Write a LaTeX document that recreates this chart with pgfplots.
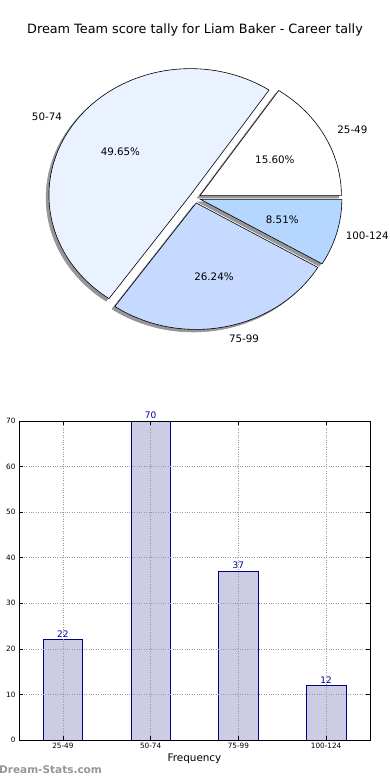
\documentclass[border=0pt]{standalone}
\usepackage{pgfplots}
\usepackage{pgfplotstable}
\pgfplotsset{compat=1.18}
\usepackage{fontspec}
\setmainfont{DejaVu Sans}
\definecolor{sliceA}{RGB}{255,255,255}
\definecolor{sliceB}{RGB}{234,241,255}
\definecolor{sliceC}{RGB}{198,217,255}
\definecolor{sliceD}{RGB}{180,214,255}
\definecolor{barfill}{RGB}{204,204,228}
\definecolor{baredge}{RGB}{0,0,128}
\definecolor{vallab}{RGB}{0,0,160}
\definecolor{wm}{RGB}{150,150,150}
\definecolor{shadowc}{RGB}{150,150,152}

\pgfplotstableread{
x label value
0 25-49 22
1 50-74 70
2 75-99 37
3 100-124 12
}\datatable

\pgfplotstablegetelem{0}{value}\of{\datatable}\let\vA\pgfplotsretval
\pgfplotstablegetelem{1}{value}\of{\datatable}\let\vB\pgfplotsretval
\pgfplotstablegetelem{2}{value}\of{\datatable}\let\vC\pgfplotsretval
\pgfplotstablegetelem{3}{value}\of{\datatable}\let\vD\pgfplotsretval
\pgfmathsetmacro\tot{\vA+\vB+\vC+\vD}
\pgfmathsetmacro\fA{\vA/\tot}
\pgfmathsetmacro\fB{\vB/\tot}
\pgfmathsetmacro\fC{\vC/\tot}
\pgfmathsetmacro\fD{\vD/\tot}
\def\aA{0}
\pgfmathsetmacro\aB{360*\fA}
\pgfmathsetmacro\aC{\aB+360*\fB}
\pgfmathsetmacro\aD{\aC+360*\fC}
\def\aE{360}
% mid angles
\pgfmathsetmacro\mA{(\aA+\aB)/2}
\pgfmathsetmacro\mB{(\aB+\aC)/2}
\pgfmathsetmacro\mC{(\aC+\aD)/2}
\pgfmathsetmacro\mD{(\aD+\aE)/2}
% explode offsets
\def\ex{0.04}
\pgfmathsetmacro\dxA{\ex*cos(\mA)}\pgfmathsetmacro\dyA{\ex*sin(\mA)}
\pgfmathsetmacro\dxB{\ex*cos(\mB)}\pgfmathsetmacro\dyB{\ex*sin(\mB)}
\pgfmathsetmacro\dxC{\ex*cos(\mC)}\pgfmathsetmacro\dyC{\ex*sin(\mC)}
\pgfmathsetmacro\dxD{\ex*cos(\mD)}\pgfmathsetmacro\dyD{\ex*sin(\mD)}
% shadow centres
\pgfmathsetmacro\sxA{\dxA-0.02}\pgfmathsetmacro\syA{\dyA-0.02}
\pgfmathsetmacro\sxB{\dxB-0.02}\pgfmathsetmacro\syB{\dyB-0.02}
\pgfmathsetmacro\sxC{\dxC-0.02}\pgfmathsetmacro\syC{\dyC-0.02}
\pgfmathsetmacro\sxD{\dxD-0.02}\pgfmathsetmacro\syD{\dyD-0.02}
% label positions
\pgfmathsetmacro\lxA{\dxA+1.1*cos(\mA)}\pgfmathsetmacro\lyA{\dyA+1.1*sin(\mA)}
\pgfmathsetmacro\lxB{\dxB+1.1*cos(\mB)}\pgfmathsetmacro\lyB{\dyB+1.1*sin(\mB)}
\pgfmathsetmacro\lxC{\dxC+1.1*cos(\mC)}\pgfmathsetmacro\lyC{\dyC+1.1*sin(\mC)}
\pgfmathsetmacro\lyD{\dyD+1.1*sin(\mD)}
\pgfmathsetmacro\pxA{\dxA+0.6*cos(\mA)}\pgfmathsetmacro\pyA{\dyA+0.6*sin(\mA)}
\pgfmathsetmacro\pxB{\dxB+0.6*cos(\mB)}\pgfmathsetmacro\pyB{\dyB+0.6*sin(\mB)}
\pgfmathsetmacro\pxC{\dxC+0.6*cos(\mC)}\pgfmathsetmacro\pyC{\dyC+0.6*sin(\mC)}
\pgfmathsetmacro\pxD{\dxD+0.6*cos(\mD)}\pgfmathsetmacro\pyD{\dyD+0.6*sin(\mD)}
\pgfmathsetmacro\pcA{100*\vA/\tot}
\pgfmathsetmacro\pcB{100*\vB/\tot}
\pgfmathsetmacro\pcC{100*\vC/\tot}
\pgfmathsetmacro\pcD{100*\vD/\tot}

\newcommand\pieShadow[4]{%
  \addplot[draw=shadowc, line width=0.6pt, fill=shadowc, domain=#1:#2, samples=90, variable=\t]
    ({#3+cos(\t)},{#4+sin(\t)}) -- (axis cs:#3,#4) -- cycle;}
\newcommand\pieWedge[5]{%
  \addplot[draw=black, line width=0.6pt, fill=#1, domain=#2:#3, samples=90, variable=\t]
    ({#4+cos(\t)},{#5+sin(\t)}) -- (axis cs:#4,#5) -- cycle;}
\newcommand\pct[1]{\pgfmathprintnumber[fixed,fixed zerofill,precision=2,assume math mode=true]{#1}\%}

\begin{document}
\begin{tikzpicture}
\useasboundingbox (0pt,0pt) rectangle (390pt,780pt);

\node[font=\fontsize{12.8}{15}\selectfont] at (195pt,750pt)
  {Dream Team score tally for Liam Baker - Career tally};

% ---------- pie ----------
\begin{axis}[
  at={(11.18pt,417.55pt)}, anchor=south west,
  x=141.4pt, y=126.5pt,
  xmin=-1.3, xmax=1.35, ymin=-1.3, ymax=1.3,
  hide axis, clip=false,
]
\pieShadow{\aA}{\aB}{\sxA}{\syA}
\pieShadow{\aB}{\aC}{\sxB}{\syB}
\pieShadow{\aC}{\aD}{\sxC}{\syC}
\pieShadow{\aD}{\aE}{\sxD}{\syD}
\pieWedge{sliceA}{\aA}{\aB}{\dxA}{\dyA}
\pieWedge{sliceB}{\aB}{\aC}{\dxB}{\dyB}
\pieWedge{sliceC}{\aC}{\aD}{\dxC}{\dyC}
\pieWedge{sliceD}{\aD}{\aE}{\dxD}{\dyD}
\begin{scope}[every node/.style={font=\fontsize{10.3}{12}\selectfont, inner sep=0pt}]
\node[anchor=west] at (axis cs:\lxA,\lyA) {25-49};
\node[anchor=east] at (axis cs:\lxB,\lyB) {50-74};
\node[anchor=west] at (axis cs:\lxC,\lyC) {75-99};
\node[anchor=east] at (axis cs:1.372,\lyD) {100-124};
\node at (axis cs:\pxA,\pyA) {\pct{\pcA}};
\node at (axis cs:\pxB,\pyB) {\pct{\pcB}};
\node at (axis cs:\pxC,\pyC) {\pct{\pcC}};
\node at (axis cs:\pxD,\pyD) {\pct{\pcD}};
\end{scope}
\end{axis}

% ---------- bars ----------
\begin{axis}[
  at={(19pt,40pt)}, anchor=south west, scale only axis,
  width=351pt, height=319pt,
  xmin=-0.5, xmax=3.5, ymin=0, ymax=70,
  xtick={0,1,2,3}, xticklabels from table={\datatable}{label},
  ytick={0,10,...,70},
  grid=major, grid style={dotted, black!40, line width=0.6pt},
  axis on top, clip=false,
  tick align=inside, major tick length=4pt,
  tick style={black, line width=0.5pt},
  axis line style={black, line width=0.8pt},
  /pgf/number format/assume math mode=true,
  ticklabel style={font=\fontsize{7.3}{8}\selectfont},
  xlabel={Frequency}, xlabel style={font=\fontsize{10.4}{12}\selectfont, yshift=2pt},
  nodes near coords,
  nodes near coords style={font=\fontsize{9}{10}\selectfont, text=vallab, inner sep=2pt},
]
\addplot[ybar, bar width=0.45, fill=barfill, draw=baredge, line width=0.6pt]
  table[x=x, y=value]{\datatable};
\end{axis}

\node[anchor=west, inner sep=0pt, font=\bfseries\fontsize{10.5}{12}\selectfont, text=wm]
  at (-1pt,10pt) {Dream-Stats.com};
\end{tikzpicture}
\end{document}
